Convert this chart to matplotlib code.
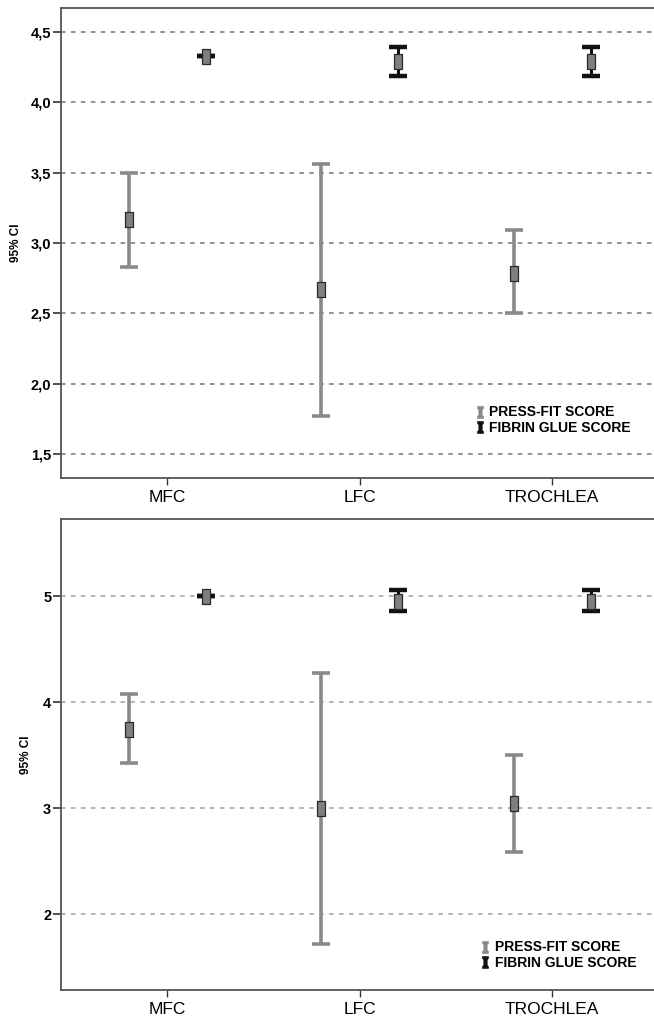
import matplotlib
matplotlib.use("Agg")
import matplotlib.pyplot as plt
from matplotlib.lines import Line2D
from matplotlib.ticker import FuncFormatter

# categories and series
sites = ["MFC", "LFC", "TROCHLEA"]
series_names = ["PRESS-FIT SCORE", "FIBRIN GLUE SCORE"]

# upper panel (decimal comma axis)
a_press_mean = [3.17, 2.67, 2.79]
a_press_low = [2.83, 1.77, 2.50]
a_press_high = [3.50, 3.56, 3.09]
a_glue_mean = [4.33, 4.29, 4.29]
a_glue_low = [4.33, 4.19, 4.19]
a_glue_high = [4.33, 4.39, 4.39]
a_yticks = [1.5, 2.0, 2.5, 3.0, 3.5, 4.0, 4.5]

# lower panel
b_press_mean = [3.75, 3.00, 3.05]
b_press_low = [3.43, 1.72, 2.59]
b_press_high = [4.08, 4.28, 3.50]
b_glue_mean = [5.00, 4.96, 4.96]
b_glue_low = [5.00, 4.86, 4.86]
b_glue_high = [5.00, 5.06, 5.06]
b_yticks = [2, 3, 4, 5]

plt.rcParams["font.family"] = ["Liberation Sans", "DejaVu Sans"]

PRESS_COLOR = "#8a8a8a"
GLUE_COLOR = "#111111"
BOX = [(-0.47, -1), (0.47, -1), (0.47, 1), (-0.47, 1), (-0.47, -1)]
# small I-beam used as legend key
IBEAM = [(-0.5, 1), (0.5, 1), (0.5, 0.7), (0.28, 0.45), (0.28, -0.45),
         (0.5, -0.7), (0.5, -1), (-0.5, -1), (-0.5, -0.7), (-0.28, -0.45),
         (-0.28, 0.45), (-0.5, 0.7), (-0.5, 1)]


def draw_ci(ax, xs, mean, low, high, color, lw, capthick):
    err = [[m - lo for m, lo in zip(mean, low)], [hi - m for m, hi in zip(mean, high)]]
    ax.errorbar(xs, mean, yerr=err, fmt="none", ecolor=color, elinewidth=lw,
                capsize=6.8, capthick=capthick, zorder=3)
    ax.plot(xs, mean, linestyle="none", marker=BOX, markersize=10.8,
            markerfacecolor="#7f7f7f", markeredgecolor="#2a2a2a",
            markeredgewidth=0.9, zorder=4)


def draw_panel(ax, press, glue, yticks, ylim, fmt, grid_color, label_x, leg_anchor):
    x = list(range(len(sites)))
    draw_ci(ax, [v - 0.2 for v in x], *press, PRESS_COLOR, 2.6, 2.6)
    draw_ci(ax, [v + 0.2 for v in x], *glue, GLUE_COLOR, 2.2, 3.2)

    ax.set_xlim(-0.551, 2.545)
    ax.set_ylim(*ylim)
    ax.set_xticks(x)
    ax.set_xticklabels(sites, fontsize=12.5)
    ax.set_yticks(yticks)
    ax.yaxis.set_major_formatter(FuncFormatter(fmt))
    for t in ax.get_yticklabels():
        t.set_fontweight("bold")
    ax.tick_params(axis="y", length=6, width=1.2, color="#333333", pad=1,
                   labelsize=10.5)
    ax.tick_params(axis="x", length=5, width=1.0, color="#333333", pad=4)
    for y in yticks:
        ax.axhline(y, color=grid_color, linewidth=1.1, linestyle=(0, (3, 3.5)), zorder=1)
    for side in ["left", "bottom", "top", "right"]:
        ax.spines[side].set_color("#555555")
        ax.spines[side].set_linewidth(1.3)

    ax.set_ylabel("95% CI", fontweight="bold", fontsize=8.5)
    ax.yaxis.set_label_coords(label_x, 0.5)

    handles = [Line2D([], [], linestyle="none", marker=IBEAM, markersize=8.5,
                      markerfacecolor=c, markeredgecolor=c, markeredgewidth=0.5)
               for c in [PRESS_COLOR, GLUE_COLOR]]
    ax.legend(handles, series_names, loc="center left", bbox_to_anchor=leg_anchor,
              frameon=False, handlelength=0.45, handletextpad=0.45, borderpad=0,
              labelspacing=0.1, prop={"weight": "bold", "size": 10})


def main():
    fig = plt.figure(figsize=(6.54, 10.23), dpi=100)
    left = 61 / 654
    width = 596 / 654
    ax_top = fig.add_axes([left, 1 - 478 / 1023, width, 470 / 1023])
    ax_bot = fig.add_axes([left, 1 - 990 / 1023, width, 471 / 1023])

    draw_panel(ax_top,
               (a_press_mean, a_press_low, a_press_high),
               (a_glue_mean, a_glue_low, a_glue_high),
               a_yticks, (1.33, 4.67),
               lambda v, p: f"{v:.1f}".replace(".", ","),
               "#777777", -0.066, (0.686, 0.123))
    draw_panel(ax_bot,
               (b_press_mean, b_press_low, b_press_high),
               (b_glue_mean, b_glue_low, b_glue_high),
               b_yticks, (1.283, 5.73),
               lambda v, p: f"{v:.0f}",
               "#a0a0a0", -0.048, (0.695, 0.074))

    fig.savefig("out.png", dpi=100)


if __name__ == "__main__":
    main()
